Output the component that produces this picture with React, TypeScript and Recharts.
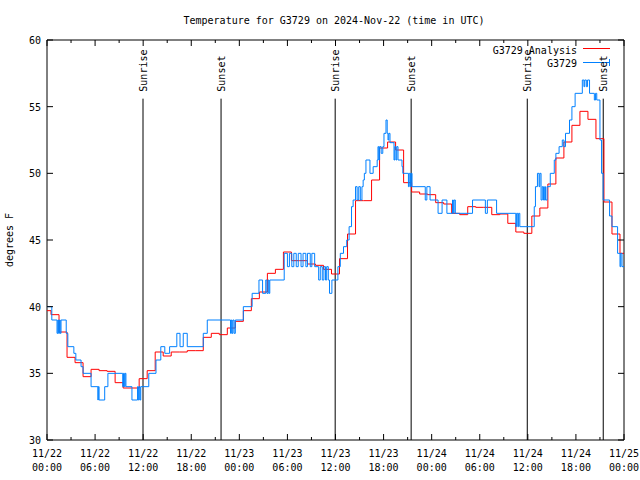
import React from 'react';
import { LineChart, Line, XAxis, YAxis, ReferenceLine, ReferenceArea } from 'recharts';

// ---------- data ----------
const chartTitle = 'Temperature for G3729 on 2024-Nov-22 (time in UTC)';
const yAxisTitle = 'degrees F';
const seriesNames = ['G3729 Analysis', 'G3729'];
const seriesColors = ['#ff0000', '#0080ff'];

// hourly analysis values (hour 0 .. 72)
const analysisValues = [
  39.7, 39.4, 38.1, 36.2, 35.8, 34.75, 35.3, 35.2, 35.15, 34.3,
  33.9, 33.9, 34.6, 35.2, 36.6, 36.3, 36.6, 36.6, 36.7, 36.7,
  37.7, 38.0, 37.9, 38.4, 38.9, 39.7, 40.6, 41.1, 42.5, 42.8,
  44.1, 43.45, 43.45, 43.2, 43.1, 42.8, 42.45, 43.6, 45.45, 47.95,
  47.95, 49.5, 51.9, 52.35, 51.75, 49.3, 48.6, 48.45, 48.4, 47.8,
  47.7, 47.0, 46.9, 47.5, 47.45, 47.45, 46.9, 46.95, 46.25, 45.6,
  45.5, 46.8, 47.4, 49.2, 51.15, 52.35, 53.6, 54.65, 54.05, 52.6,
  47.85, 45.45, 44.0,
];

// observation readings: [hours since 11/22 00:00, degrees F]
const observationReadings: [number, number][] = [
  [0, 40], [0.6, 39], [1.25, 38], [1.35, 39], [1.45, 38], [1.55, 39], [1.65, 38], [1.75, 39],
  [2.4, 38], [2.6, 37], [3.35, 36.5], [3.6, 36], [4.25, 35.5], [4.5, 35], [5.5, 34],
  [6.35, 33], [6.4, 34], [6.5, 33], [7.2, 34], [7.6, 35],
  [9.45, 34], [9.55, 35], [9.65, 34], [9.75, 35], [9.85, 34], [10.6, 33],
  [11.3, 34], [11.4, 33], [11.5, 34], [11.6, 33], [11.7, 34], [12.7, 35], [13.6, 36],
  [14.2, 37], [14.7, 36.5], [15.3, 37], [16.2, 38], [16.6, 37], [17.0, 38], [17.5, 37],
  [19.5, 38], [20.0, 39], [22.9, 38], [23.0, 39], [23.1, 38], [23.2, 39], [23.35, 38], [23.5, 39],
  [24.5, 40], [25.6, 41], [26.45, 42], [26.9, 41], [27.3, 42], [27.45, 41], [27.6, 42], [27.7, 41], [27.8, 42],
  [29.6, 44], [30.0, 43], [30.25, 44], [30.55, 43], [30.8, 44], [31.1, 43], [31.35, 44], [31.7, 43],
  [31.95, 44], [32.3, 43], [32.5, 44], [32.85, 43], [33.05, 44], [33.4, 43],
  [33.9, 42], [34.1, 43], [34.35, 42], [34.55, 43], [34.75, 42], [34.9, 43], [35.1, 42], [35.25, 41], [35.55, 42],
  [36.3, 43], [36.6, 44], [37.0, 44.5], [37.4, 45], [37.7, 46], [38.0, 47.5], [38.2, 48],
  [38.5, 49], [38.7, 48], [38.9, 49], [39.1, 48], [39.3, 49], [39.45, 49.5], [39.6, 50], [39.8, 51],
  [40.3, 50], [40.7, 50.5], [41.2, 51], [41.3, 52], [41.4, 51], [41.5, 52], [41.7, 51.5], [41.9, 52],
  [42.05, 53], [42.3, 54], [42.45, 53], [42.55, 52.5], [42.65, 53], [42.8, 52.3],
  [43.3, 51], [43.4, 52], [43.55, 51], [43.65, 52], [43.8, 51], [44.3, 50.5], [44.4, 50],
  [45.1, 49], [45.2, 50], [45.35, 49], [45.45, 50], [45.55, 49],
  [47.2, 48], [47.4, 49], [47.8, 48], [48.8, 47], [49.3, 48], [49.9, 47],
  [50.6, 48], [50.7, 47], [50.8, 48], [50.95, 47], [53.1, 48], [54.7, 47], [54.95, 48], [56.1, 47],
  [58.5, 46], [58.6, 47], [58.75, 46], [58.85, 47], [59.0, 46],
  [60.8, 47.5], [60.95, 49], [61.2, 50], [61.4, 49], [61.5, 50], [61.65, 48], [61.8, 49], [61.95, 48],
  [62.1, 49], [62.2, 48], [62.4, 49], [62.8, 50], [63.3, 51], [63.5, 51.5], [63.9, 52],
  [64.3, 52.5], [64.5, 52], [64.7, 53], [65.2, 54], [65.5, 55], [65.9, 56],
  [66.8, 57], [67.0, 56.5], [67.1, 57], [67.3, 56.5], [67.45, 57], [67.7, 56],
  [68.3, 55.5], [68.45, 56], [68.6, 55.5], [69.0, 52.5], [69.2, 50], [69.4, 48],
  [70.2, 46.8], [70.5, 46], [71.2, 44], [71.5, 43], [71.6, 44], [71.75, 43], [72, 43],
];

const xTicks = [0, 3, 6, 9, 12, 15, 18, 21, 24, 27, 30, 33, 36, 39, 42, 45, 48, 51, 54, 57, 60, 63, 66, 69, 72];
const xTickDates = ['11/22', '11/22', '11/22', '11/22', '11/23', '11/23', '11/23', '11/23', '11/24', '11/24', '11/24', '11/24', '11/25'];
const xTickTimes = ['00:00', '06:00', '12:00', '18:00', '00:00', '06:00', '12:00', '18:00', '00:00', '06:00', '12:00', '18:00', '00:00'];
const yTicks = [30, 35, 40, 45, 50, 55, 60];

const sunriseHours = [11.98, 35.96, 59.93];
const sunsetHours = [21.72, 45.44, 69.41];

// ---------- layout ----------
const W = 640;
const H = 480;
const MARGIN = { top: 40, right: 16, bottom: 0, left: 7 };
const Y_AXIS_W = 40;
const X_AXIS_H = 40;
const PLOT_W = W - MARGIN.left - MARGIN.right - Y_AXIS_W;
const PLOT_H = H - MARGIN.top - MARGIN.bottom - X_AXIS_H;
const FONT = 'DejaVu Sans Mono, Liberation Mono, monospace';
const SUN_LINE_TOP = 55.6;

const analysisData = analysisValues.map((v, i) => ({ t: i, v }));
const observationData = observationReadings.map(([t, v]) => ({ t, v }));

const XTick = (props: any) => {
  const { x, y, payload } = props;
  const v = payload.value as number;
  const major = v % 6 === 0;
  const len = major ? 6 : 3;
  const idx = v / 6;
  return (
    <g>
      <line x1={x} x2={x} y1={y} y2={y - len} stroke="#000" />
      <line x1={x} x2={x} y1={y - PLOT_H} y2={y - PLOT_H + len} stroke="#000" />
      {major && (
        <text x={x} y={y + 17} textAnchor="middle" fontFamily={FONT} fontSize={10} fill="#000">
          {xTickDates[idx]}
        </text>
      )}
      {major && (
        <text x={x} y={y + 31} textAnchor="middle" fontFamily={FONT} fontSize={10} fill="#000">
          {xTickTimes[idx]}
        </text>
      )}
    </g>
  );
};

const YTick = (props: any) => {
  const { x, y, payload } = props;
  return (
    <g>
      <line x1={x} x2={x + 6} y1={y} y2={y} stroke="#000" />
      <line x1={x + PLOT_W} x2={x + PLOT_W - 6} y1={y} y2={y} stroke="#000" />
      <text x={x - 6} y={y + 4} textAnchor="end" fontFamily={FONT} fontSize={10} fill="#000">
        {payload.value}
      </text>
    </g>
  );
};

const SunLabel = (props: any) => {
  const { viewBox, text } = props;
  const x = viewBox.x + 4;
  const y = viewBox.y - 7;
  return (
    <text x={x} y={y} transform={`rotate(-90 ${x} ${y})`} textAnchor="start" fontFamily={FONT} fontSize={10} fill="#000">
      {text}
    </text>
  );
};

const YTitle = (props: any) => {
  const { viewBox } = props;
  const x = 13;
  const y = viewBox.y + viewBox.height / 2;
  return (
    <text x={x} y={y} transform={`rotate(-90 ${x} ${y})`} textAnchor="middle" fontFamily={FONT} fontSize={10} fill="#000">
      {yAxisTitle}
    </text>
  );
};

export default function App() {
  const plotRight = MARGIN.left + Y_AXIS_W + PLOT_W;
  return (
    <div style={{ position: 'absolute', left: 0, top: 0, width: W, height: H, background: '#fff' }}>
      <LineChart width={W} height={H} margin={MARGIN}>
        <XAxis
          dataKey="t"
          type="number"
          domain={[0, 72]}
          ticks={xTicks}
          interval={0}
          allowDataOverflow
          axisLine={false}
          tickLine={false}
          tickSize={0}
          tickMargin={0}
          height={X_AXIS_H}
          tick={XTick}
        />
        <YAxis
          type="number"
          domain={[30, 60]}
          ticks={yTicks}
          interval={0}
          allowDataOverflow
          axisLine={false}
          tickLine={false}
          tickSize={0}
          tickMargin={0}
          width={Y_AXIS_W}
          tick={YTick}
          label={<YTitle />}
        />
        <ReferenceArea x1={0} x2={72} y1={30} y2={60} fill="none" fillOpacity={0} stroke="#000" strokeWidth={1} />
        {sunriseHours.map((h) => (
          <ReferenceLine
            key={'sr' + h}
            segment={[{ x: h, y: SUN_LINE_TOP }, { x: h, y: 30 }]}
            stroke="#000"
            strokeWidth={1}
            label={<SunLabel text="Sunrise" />}
          />
        ))}
        {sunsetHours.map((h) => (
          <ReferenceLine
            key={'ss' + h}
            segment={[{ x: h, y: SUN_LINE_TOP }, { x: h, y: 30 }]}
            stroke="#000"
            strokeWidth={1}
            label={<SunLabel text="Sunset" />}
          />
        ))}
        <Line
          data={analysisData}
          dataKey="v"
          name={seriesNames[0]}
          type="step"
          stroke={seriesColors[0]}
          strokeWidth={1}
          dot={false}
          activeDot={false}
          isAnimationActive={false}
        />
        <Line
          data={observationData}
          dataKey="v"
          name={seriesNames[1]}
          type="stepAfter"
          stroke={seriesColors[1]}
          strokeWidth={1}
          dot={false}
          activeDot={false}
          isAnimationActive={false}
        />
        <text x={334} y={24} textAnchor="middle" fontFamily={FONT} fontSize={10} fill="#000">
          {chartTitle}
        </text>
        <g>
          <text x={577} y={54} textAnchor="end" fontFamily={FONT} fontSize={10} fill="#000">
            {seriesNames[0]}
          </text>
          <line x1={583} x2={610} y1={48.5} y2={48.5} stroke={seriesColors[0]} />
          <text x={577} y={67} textAnchor="end" fontFamily={FONT} fontSize={10} fill="#000">
            {seriesNames[1]}
          </text>
          <line x1={583} x2={610} y1={62.5} y2={62.5} stroke={seriesColors[1]} />
          <line x1={609.5} x2={609.5} y1={59} y2={66} stroke={seriesColors[1]} />
        </g>
      </LineChart>
    </div>
  );
}
